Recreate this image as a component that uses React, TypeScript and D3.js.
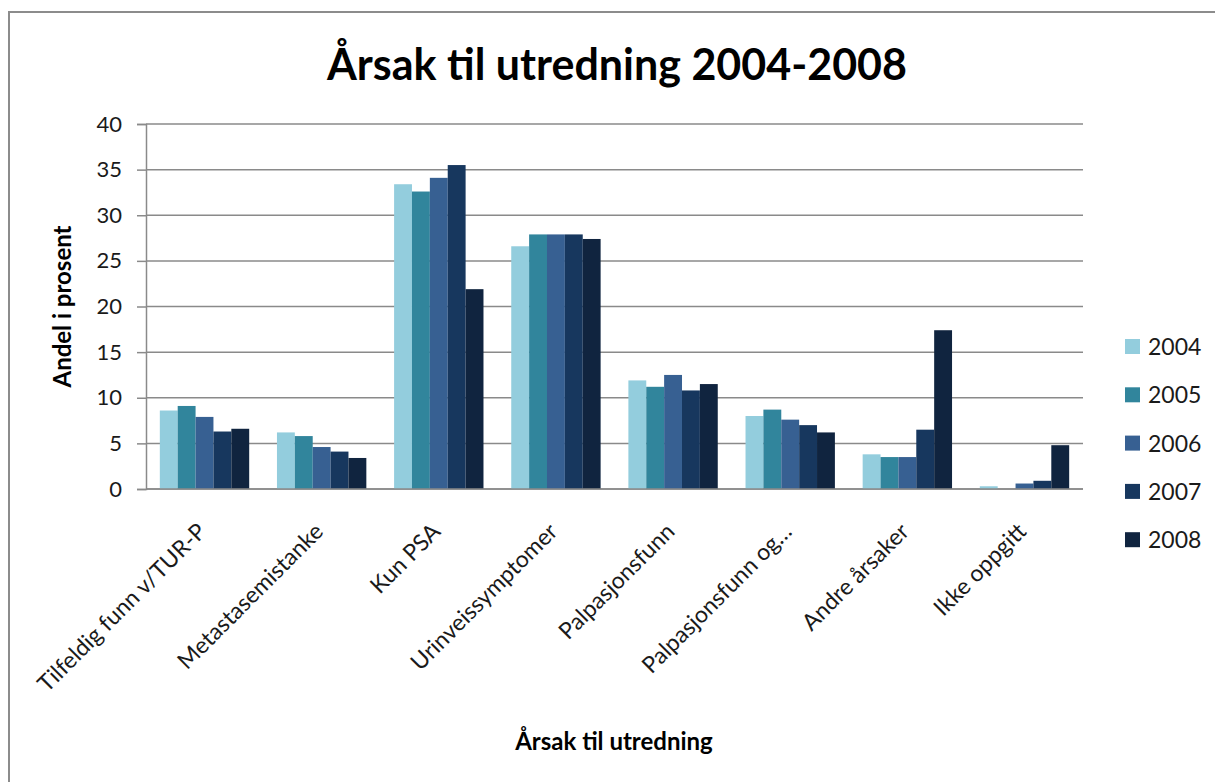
import React, { useRef, useEffect } from "react";
import * as d3 from "d3";

const categories = [
    "Tilfeldig funn v/TUR-P",
    "Metastasemistanke",
    "Kun PSA",
    "Urinveissymptomer",
    "Palpasjonsfunn",
    "Palpasjonsfunn og…",
    "Andre årsaker",
    "Ikke oppgitt",
];

const years = ["2004", "2005", "2006", "2007", "2008"];

const values2004 = [8.6, 6.2, 33.4, 26.6, 11.9, 8.0, 3.8, 0.3];
const values2005 = [9.1, 5.8, 32.6, 27.9, 11.2, 8.7, 3.5, 0];
const values2006 = [7.9, 4.6, 34.1, 27.9, 12.5, 7.6, 3.5, 0.6];
const values2007 = [6.3, 4.1, 35.5, 27.9, 10.8, 7.0, 6.5, 0.9];
const values2008 = [6.6, 3.4, 21.9, 27.4, 11.5, 6.2, 17.4, 4.8];

const yTicks = [0, 5, 10, 15, 20, 25, 30, 35, 40];

const colors = ["#93CDDD", "#31859C", "#376092", "#17375E", "#10243F"];

const FONT = "Lato, 'Open Sans', sans-serif";

const Chart = () => {
    const svgRef = useRef<SVGSVGElement>(null);

    useEffect(() => {
        if (!svgRef.current) return;
        const svg = d3.select(svgRef.current);
        svg.selectAll("*").remove();

        const width = 1215;
        const height = 782;
        const plot = { left: 146, right: 1083, top: 124, bottom: 489 };

        const series = [values2004, values2005, values2006, values2007, values2008];

        // outer chart frame, runs past the right and bottom edges
        svg.append("rect")
            .attr("x", 9)
            .attr("y", 12)
            .attr("width", width + 20)
            .attr("height", height + 20)
            .attr("fill", "white")
            .attr("stroke", "#8c8c8c")
            .attr("stroke-width", 2);

        const x0 = d3
            .scaleBand()
            .domain(categories)
            .range([plot.left, plot.right])
            .paddingInner(0.237)
            .paddingOuter(0.118);

        const x1 = d3
            .scaleBand()
            .domain(years)
            .range([0, x0.bandwidth()]);

        const y = d3
            .scaleLinear()
            .domain([0, 40])
            .range([plot.bottom, plot.top]);

        // gridlines
        svg.append("g")
            .selectAll("line")
            .data(yTicks)
            .enter()
            .append("line")
            .attr("x1", plot.left)
            .attr("x2", plot.right)
            .attr("y1", (d) => y(d))
            .attr("y2", (d) => y(d))
            .attr("stroke", "#8a8a8a")
            .attr("stroke-width", 1.5);

        // bars
        series.forEach((vals, si) => {
            svg.append("g")
                .selectAll("rect")
                .data(vals)
                .enter()
                .append("rect")
                .attr("x", (d, i) => (x0(categories[i]) || 0) + (x1(years[si]) || 0))
                .attr("y", (d) => y(d))
                .attr("width", x1.bandwidth())
                .attr("height", (d) => plot.bottom - y(d))
                .attr("fill", colors[si]);
        });

        // y axis
        const yAxis = svg
            .append("g")
            .attr("transform", `translate(${plot.left},0)`)
            .call(d3.axisLeft(y).tickValues(yTicks).tickSize(9).tickPadding(15));
        yAxis.select(".domain").attr("stroke", "#8a8a8a").attr("stroke-width", 1.5);
        yAxis.selectAll(".tick line").attr("stroke", "#8a8a8a").attr("stroke-width", 1.5);
        yAxis.selectAll(".tick text")
            .attr("font-family", FONT)
            .attr("font-size", 22)
            .attr("fill", "#1a1a1a");

        // x axis line
        svg.append("line")
            .attr("x1", plot.left)
            .attr("x2", plot.right)
            .attr("y1", plot.bottom)
            .attr("y2", plot.bottom)
            .attr("stroke", "#8a8a8a")
            .attr("stroke-width", 1.5);

        // category labels, rotated
        svg.append("g")
            .selectAll("text")
            .data(categories)
            .enter()
            .append("text")
            .attr("transform", (d) => {
                const cx = (x0(d) || 0) + x0.bandwidth() / 2 + 3;
                return `translate(${cx},${plot.bottom + 44}) rotate(-45)`;
            })
            .attr("text-anchor", "end")
            .attr("font-family", FONT)
            .attr("font-size", 23)
            .attr("fill", "#1a1a1a")
            .text((d) => d);

        // titles
        svg.append("text")
            .attr("x", 617)
            .attr("y", 80)
            .attr("text-anchor", "middle")
            .attr("font-family", FONT)
            .attr("font-weight", "bold")
            .attr("font-size", 43)
            .text("Årsak til utredning 2004-2008");

        svg.append("text")
            .attr("x", 614)
            .attr("y", 750)
            .attr("text-anchor", "middle")
            .attr("font-family", FONT)
            .attr("font-weight", "bold")
            .attr("font-size", 24)
            .text("Årsak til utredning");

        svg.append("text")
            .attr("transform", `translate(71,${(plot.top + plot.bottom) / 2}) rotate(-90)`)
            .attr("text-anchor", "middle")
            .attr("font-family", FONT)
            .attr("font-weight", "bold")
            .attr("font-size", 24)
            .text("Andel i prosent");

        // legend
        const legend = svg
            .append("g")
            .selectAll("g")
            .data(years)
            .enter()
            .append("g")
            .attr("transform", (d, i) => `translate(1125,${347 + i * 48.3})`);
        legend.append("rect")
            .attr("x", 0)
            .attr("y", -8)
            .attr("width", 15)
            .attr("height", 15)
            .attr("fill", (d, i) => colors[i]);
        legend.append("text")
            .attr("x", 23)
            .attr("y", 8)
            .attr("font-family", FONT)
            .attr("font-size", 23)
            .attr("fill", "#1a1a1a")
            .text((d) => d);

        svg.attr("width", width).attr("height", height);
    }, []);

    return <svg ref={svgRef} style={{ display: "block" }} />;
};

export default function App() {
    return (
        <div style={{ position: "absolute", left: 0, top: 0, background: "white" }}>
            <Chart />
        </div>
    );
}
